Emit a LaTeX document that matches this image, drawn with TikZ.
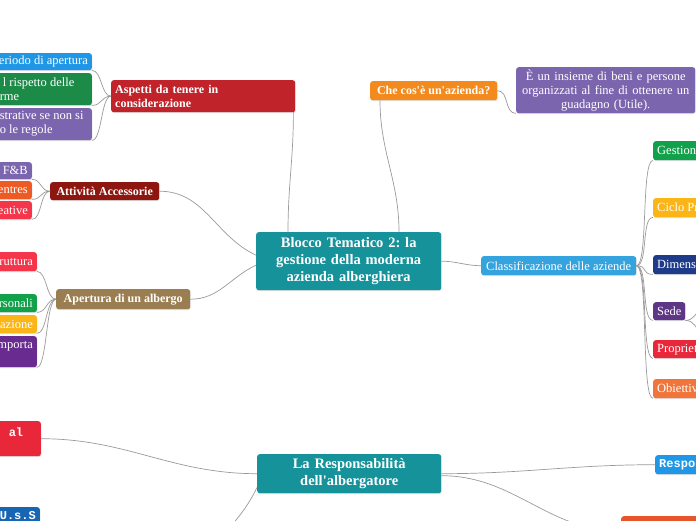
\documentclass[tikz,border=0pt]{standalone}
\usepackage{fontspec}
\setmainfont{Liberation Serif}[Ligatures=TeXOff]
\newfontfamily\monof{Liberation Mono}[Ligatures=TeXOff]
\usetikzlibrary{shadows}
\definecolor{tealc}{HTML}{16929B}
\definecolor{aspred}{HTML}{C1232B}
\definecolor{cblue}{HTML}{1F97E6}
\definecolor{cgreen}{HTML}{1C8B48}
\definecolor{cpurple}{HTML}{7B65AE}
\definecolor{attred}{HTML}{8E1610}
\definecolor{corange}{HTML}{EE5A24}
\definecolor{cred}{HTML}{F5364A}
\definecolor{tan}{HTML}{9A7E52}
\definecolor{lgreen}{HTML}{12A14B}
\definecolor{gold}{HTML}{FBB516}
\definecolor{dpurple}{HTML}{6A2B90}
\definecolor{cheor}{HTML}{F28A1D}
\definecolor{clablue}{HTML}{35A3DE}
\definecolor{navy}{HTML}{1D3B89}
\definecolor{sedep}{HTML}{5E3686}
\definecolor{propred}{HTML}{E8283A}
\definecolor{obor}{HTML}{F1743B}
\definecolor{ussblue}{HTML}{1666B3}
\definecolor{botor}{HTML}{E5572A}
\definecolor{linegray}{HTML}{9A9A9A}
\tikzset{
  box/.style={rounded corners=2.5pt, text=white, inner xsep=4pt, inner ysep=1pt,
    drop shadow={shadow xshift=0.5pt, shadow yshift=-0.8pt, opacity=0.25}},
  big/.style={box, font=\fontsize{14.5}{17}\selectfont\bfseries, align=center},
  mid/.style={box, font=\fontsize{12}{14}\selectfont\bfseries},
  leaf/.style={box, font=\fontsize{12.5}{14}\selectfont},
  mono/.style={box, font=\fontsize{12}{14}\monof\bfseries},
  conn/.style={draw=linegray, line width=0.7pt},
  lc/.style={to path={.. controls +(-10,0) and +(10,0) .. (\tikztotarget)}},
  rc/.style={to path={.. controls +(12,0) and +(-12,0) .. (\tikztotarget)}},
}
\begin{document}
\frenchspacing
\begin{tikzpicture}[x=1pt,y=1pt]
\useasboundingbox (0,0) rectangle (696,-520);
\fill[white] (0,0) rectangle (696,-520);
\clip (0,0) rectangle (696,-520);

% central
\node[big, fill=tealc, anchor=north west, minimum width=185pt, minimum height=58pt, text width=177pt] (cen) at (256,-232)
  {Blocco Tematico 2: la\\gestione della moderna\\azienda alberghiera};

% Aspetti
\node[mid, fill=aspred, anchor=north west, minimum width=184pt, minimum height=32pt, text width=176pt, align=left] (asp) at (111,-80)
  {Aspetti da tenere in\\considerazione};
\node[leaf, fill=cblue, anchor=north east, minimum width=96pt, minimum height=17pt] (a1) at (92,-53) {\makebox[88pt][r]{eriodo di apertura}};
\node[leaf, fill=cgreen, anchor=north east, minimum width=96pt, minimum height=32pt, align=left] (a2) at (92,-73) {\makebox[88pt][l]{\hspace*{3pt}l rispetto delle}\\\makebox[88pt][l]{rme}};
\node[leaf, fill=cpurple, anchor=north east, minimum width=96pt, minimum height=32pt, align=left] (a3) at (92,-108) {\makebox[88pt][l]{strative se non si}\\\makebox[88pt][l]{o le regole}};

% Attivita
\node[mid, fill=attred, anchor=north west, minimum width=109pt, minimum height=18pt] (att) at (50,-182) {Attività Accessorie};
\node[leaf, fill=cpurple, anchor=north east, minimum width=36pt, minimum height=17pt] (b1) at (32,-162) {\makebox[28pt][r]{i F\&B}};
\node[leaf, fill=corange, anchor=north east, minimum width=36pt, minimum height=18pt] (b2) at (32,-181) {\makebox[28pt][r]{entres}};
\node[leaf, fill=cred, anchor=north east, minimum width=36pt, minimum height=18pt] (b3) at (32,-201) {\makebox[28pt][r]{eative}};

% Apertura
\node[mid, fill=tan, anchor=north west, minimum width=134pt, minimum height=20pt] (ape) at (56,-289) {Apertura di un albergo};
\node[leaf, fill=cred, anchor=north east, minimum width=41pt, minimum height=19pt] (c1) at (37,-252) {\makebox[33pt][r]{ruttura}};
\node[leaf, fill=lgreen, anchor=north east, minimum width=41pt, minimum height=18pt] (c2) at (37,-294) {\makebox[33pt][r]{ersonali}};
\node[leaf, fill=gold, anchor=north east, minimum width=41pt, minimum height=18pt] (c3) at (37,-315) {\makebox[33pt][r]{cazione}};
\node[leaf, fill=dpurple, anchor=north east, minimum width=41pt, minimum height=31pt, align=right] (c4) at (37,-336) {\makebox[33pt][r]{mporta}\\\mbox{}};

% Che cos'e
\node[mid, fill=cheor, anchor=north west, minimum width=127pt, minimum height=19pt] (che) at (370,-81) {Che cos'è un'azienda?};
\node[leaf, fill=cpurple, anchor=north west, minimum width=179pt, minimum height=46pt, text width=171pt, align=center] (def) at (516,-67)
  {È un insieme di beni e persone\\organizzati al fine di ottenere un\\guadagno (Utile).};

% Classificazione
\node[leaf, fill=clablue, anchor=north west, minimum width=155pt, minimum height=19pt] (cla) at (481,-256) {Classificazione delle aziende};
\node[leaf, fill=lgreen, anchor=north west, minimum width=70pt, minimum height=19pt] (d1) at (653,-141) {\makebox[62pt][l]{Gestion}};
\node[leaf, fill=gold, anchor=north west, minimum width=70pt, minimum height=19pt] (d2) at (653,-198) {\makebox[62pt][l]{Ciclo Pr}};
\node[leaf, fill=navy, anchor=north west, minimum width=70pt, minimum height=19pt] (d3) at (653,-255) {\makebox[62pt][l]{Dimens}};
\node[leaf, fill=sedep, anchor=north west, minimum width=32pt, minimum height=18pt, inner xsep=2pt] (d4) at (653,-302) {Sede};
\node[leaf, fill=propred, anchor=north west, minimum width=70pt, minimum height=18pt] (d5) at (653,-340) {\makebox[62pt][l]{Propriet}};
\node[leaf, fill=obor, anchor=north west, minimum width=70pt, minimum height=19pt] (d6) at (653,-379) {\makebox[62pt][l]{Obiettiv}};
\coordinate (s1) at (715,-292);
\coordinate (s2) at (715,-350);

% Responsabilita
\node[big, fill=tealc, anchor=north west, minimum width=184pt, minimum height=39pt, text width=176pt] (res) at (257,-454)
  {La Responsabilità\\dell'albergatore};
\node[mono, fill=propred, anchor=north east, minimum width=45pt, minimum height=35pt, align=left] (e1) at (41,-421) {\makebox[37pt][l]{\hspace*{9pt}al}\\\mbox{}};
\node[mono, fill=ussblue, anchor=north east, minimum width=44pt, minimum height=30pt, align=left] (e2) at (40,-507) {\makebox[36pt][l]{U.s.S}\\\mbox{}};
\node[mono, fill=cblue, anchor=north west, minimum width=70pt, minimum height=19pt] (e3) at (655,-455) {\makebox[62pt][l]{Respo}};
\node[box, fill=botor, anchor=north west, minimum width=90pt, minimum height=30pt] (e4) at (621,-516) {};
\coordinate (q) at (195,-590);

% connectors
\draw[conn] ([xshift=32pt]cen.north west) to[out=90,in=-90] ([xshift=-2pt]asp.south east);
\draw[conn] ([xshift=143pt]cen.north west) to[out=90,in=-90] ([xshift=10pt]che.south west);
\draw[conn] (att.east) to[out=0,in=155] ([yshift=6pt]cen.west);
\draw[conn] (ape.east) to[out=0,in=205] ([yshift=-4pt]cen.west);
\draw[conn] (cen.east) to[out=0,in=180] (cla.west);
\foreach \n in {a1,a2,a3} \draw[conn] (asp.west) to[lc] (\n.south east);
\foreach \n in {b1,b2,b3} \draw[conn] (att.west) to[lc] (\n.south east);
\foreach \n in {c1,c2,c3,c4} \draw[conn] (ape.west) to[lc] (\n.south east);
\draw[conn] (che.east) to[rc] (def.south west);
\foreach \n in {d1,d2,d3,d4,d5,d6} \draw[conn] (cla.east) to[rc] (\n.south west);
\draw[conn] (d4.south east) to[out=0,in=180] (s1);
\draw[conn] (d4.south east) to[out=0,in=180] (s2);
\draw[conn] (res.west) to[out=180,in=0] (e1.east);
\draw[conn] ([yshift=6pt]res.south west) to[out=245,in=80] (q);
\draw[conn] (res.east) to[out=0,in=180] (e3.west);
\draw[conn] ([yshift=-2pt]res.east) to[out=0,in=180] (e4.west);
\end{tikzpicture}
\end{document}
